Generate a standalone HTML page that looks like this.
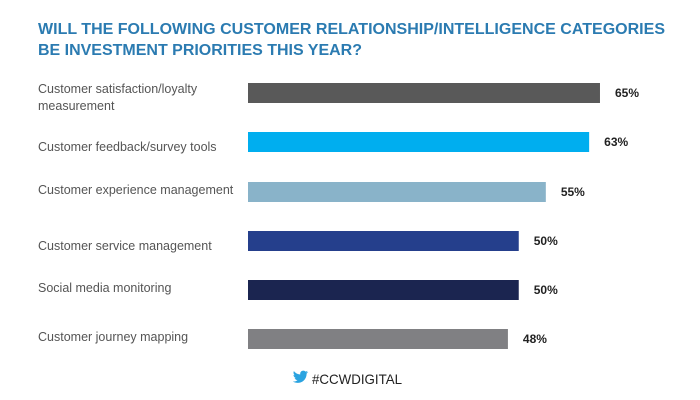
<!DOCTYPE html>
<html><head><meta charset="utf-8"><style>
html,body{margin:0;padding:0;background:#fff;}
svg{display:block;font-family:"Liberation Sans",sans-serif;}
</style></head><body>
<svg id="chart" width="700" height="400">
<text x="38" y="34" font-size="15.5" font-weight="bold" fill="#2b7bb1" textLength="627" lengthAdjust="spacingAndGlyphs">WILL THE FOLLOWING CUSTOMER RELATIONSHIP/INTELLIGENCE CATEGORIES</text>
<text x="38" y="55" font-size="15.5" font-weight="bold" fill="#2b7bb1" textLength="324" lengthAdjust="spacingAndGlyphs">BE INVESTMENT PRIORITIES THIS YEAR?</text>
<g id="bars"></g>
<g>
<path d="M308 372c-.6.3-1.2.4-1.8.5.7-.4 1.1-1 1.4-1.7-.6.4-1.3.6-2 .8-.6-.6-1.4-1-2.3-1-1.7 0-3.1 1.4-3.1 3.1 0 .2 0 .5.1.7-2.6-.1-4.9-1.4-6.4-3.3-.3.5-.4 1-.4 1.6 0 1.1.6 2 1.4 2.6-.5 0-1-.2-1.4-.4 0 1.5 1.1 2.8 2.5 3.1-.3.1-.5.1-.8.1-.2 0-.4 0-.6-.1.4 1.2 1.6 2.1 2.9 2.2-1.1.8-2.4 1.3-3.9 1.3h-.7c1.4.9 3 1.4 4.8 1.4 5.7 0 8.9-4.8 8.9-8.9v-.4c.6-.4 1.1-1 1.6-1.6z" fill="#2aa3e0"/>
<text x="312" y="384" font-size="14" fill="#222" textLength="90" lengthAdjust="spacingAndGlyphs">#CCWDIGITAL</text>
</g>
</svg>
<script>
const categories = ["Customer satisfaction/loyalty measurement","Customer feedback/survey tools","Customer experience management","Customer service management","Social media monitoring","Customer journey mapping"];
const values = [65,63,55,50,50,48];
const valueLabels = ["65%","63%","55%","50%","50%","48%"];
const colors = ["#595959","#00aeef","#89b3c9","#253f8c","#1b2550","#808083"];
const barTops = [83,132,182,231,280,329];
const x0 = 248, pxPer = 5.415, barH = 20;
function xScale(v){ return x0 + v*pxPer; }
const ns = "http://www.w3.org/2000/svg";
const g = document.getElementById("bars");
categories.forEach((c,i)=>{
  const y = barTops[i];
  const r = document.createElementNS(ns,"rect");
  r.setAttribute("x",x0); r.setAttribute("y",y);
  r.setAttribute("width",xScale(values[i])-x0); r.setAttribute("height",barH);
  r.setAttribute("fill",colors[i]);
  
  
  g.appendChild(r);
  const v = document.createElementNS(ns,"text");
  v.setAttribute("x",xScale(values[i])+15); v.setAttribute("y",y+14);
  v.setAttribute("font-size","12"); v.setAttribute("font-weight","bold"); v.setAttribute("fill","#222");
  v.textContent = valueLabels[i];
  
  
  g.appendChild(v);
  const t = document.createElementNS(ns,"text");
  t.setAttribute("x",38); t.setAttribute("font-size","12.5"); t.setAttribute("fill","#555");
  
  
  if(i===0){
    const a=document.createElementNS(ns,"tspan"); a.setAttribute("x",38); a.setAttribute("y",93); a.textContent="Customer satisfaction/loyalty";
    const b=document.createElementNS(ns,"tspan"); b.setAttribute("x",38); b.setAttribute("y",110); b.textContent="measurement";
    t.appendChild(a); t.appendChild(b);
  } else {
    const off=[0,19,12,19,12,12][i];
    t.setAttribute("y",y+off); t.textContent=c;
  }
  g.appendChild(t);
});
</script>
</body></html>
